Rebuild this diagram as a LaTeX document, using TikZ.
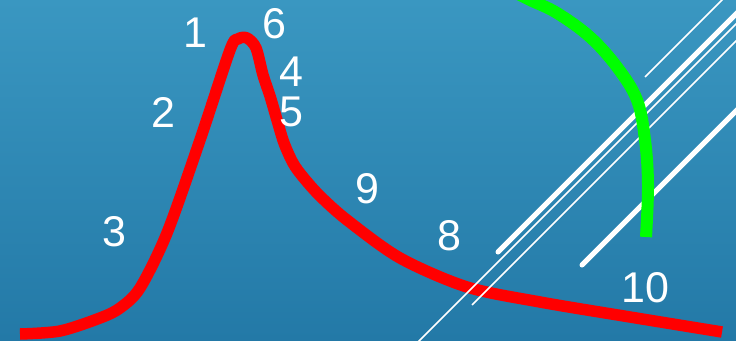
\documentclass[tikz,border=0pt]{standalone}
\usepackage{fontspec}
\setmainfont{Liberation Sans}
\definecolor{skytop}{RGB}{58,151,193}
\definecolor{skybot}{RGB}{35,121,167}
\definecolor{peak}{RGB}{255,0,0}
\definecolor{arcgreen}{RGB}{0,255,0}

\begin{document}
\begin{tikzpicture}[
  x=1pt, y=-1pt,
  num/.style={text=white, font=\fontsize{43}{43}\selectfont, inner sep=0pt},
  rail/.style={draw=white, line width=5pt, line cap=round},
  wire/.style={draw=white, line width=1.5pt},
]
\useasboundingbox (0,0) rectangle (736,340);
\clip (0,0) rectangle (736,340);
\shade[top color=skytop, bottom color=skybot] (0,0) rectangle (736,340);

% curve
\draw[peak, line width=11.5pt, line join=round]
  plot[smooth, tension=0.5] coordinates {
    (20,334) (60,331) (100,318) (120,308) (140,288) (167,233) (200,140)
    (230,50) (238,39) (247,38) (256,48) (263,75) (270,96) (277,120)
    (284,143) (293,163) (303,177) (320,196) (347,220) (400,258)
    (467,287) (540,302) (630,317) (722,332)};

% diagonal lines
\draw[wire] (645,77) -- (730,-8);
\draw[rail] (498,252) -- (760,-10);
\draw[wire] (410,350) -- (760,0);
\draw[wire] (472,305) -- (760,17);
\draw[rail] (582,265) -- (760,87);

% arc
\draw[arcgreen, line width=12pt]
  plot[smooth, tension=0.6] coordinates {
    (510,-10) (530,0) (557,13) (590,37) (617,67) (637,100) (645,140)
    (648,185) (646,237)};

\node[num] (n1) at (195,33) {1};
\node[num] (n6) at (274,24) {6};
\node[num] (n4) at (291,72) {4};
\node[num] (n5) at (291,112) {5};
\node[num] (n2) at (163,112) {2};
\node[num] (n3) at (114,232) {3};
\node[num] (n9) at (367,189) {9};
\node[num] (n8) at (449,236) {8};
\node[num] (n10) at (645,288) {10};
\end{tikzpicture}
\end{document}
